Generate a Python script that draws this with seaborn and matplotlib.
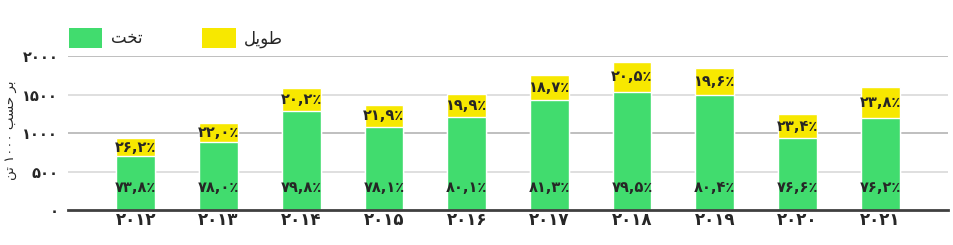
import matplotlib
matplotlib.use("Agg")
import matplotlib.pyplot as plt
import seaborn as sns
import pandas as pd
from matplotlib.patches import Patch

# ---- data ----
years = ["۲۰۱۲", "۲۰۱۳", "۲۰۱۴", "۲۰۱۵", "۲۰۱۶", "۲۰۱۷", "۲۰۱۸", "۲۰۱۹", "۲۰۲۰", "۲۰۲۱"]
flat = [695, 885, 1280, 1080, 1210, 1430, 1535, 1490, 930, 1200]
long_ = [245, 240, 305, 285, 300, 325, 385, 355, 315, 395]
flat_pct = ["۷۳,۸٪", "۷۸,۰٪", "۷۹,۸٪", "۷۸,۱٪", "۸۰,۱٪", "۸۱,۳٪", "۷۹,۵٪", "۸۰,۴٪", "۷۶,۶٪", "۷۶,۲٪"]
long_pct = ["۲۶,۲٪", "۲۲,۰٪", "۲۰,۲٪", "۲۱,۹٪", "۱۹,۹٪", "۱۸,۷٪", "۲۰,۵٪", "۱۹,۶٪", "۲۳,۴٪", "۲۳,۸٪"]
yticks = [0, 500, 1000, 1500, 2000]
ytick_labels = ["۰", "۵۰۰", "۱۰۰۰", "۱۵۰۰", "۲۰۰۰"]
# Persian labels written in visual (shaped) order for matplotlib
name_flat = "\uFE96\uFEA8\uFE97"          # تخت
name_long = "\uFEDE\uFBFE\uFEEE\uFEC3"    # طویل
ylabel = "\uFEE6\uFE97 ۱۰۰۰ \uFE90\uFEB4\uFEA3 \uFEAE\uFE91"  # بر حسب ۱۰۰۰ تن

GREEN = "#41DC6E"
YELLOW = "#F7E800"

df = pd.DataFrame({"year": years, "flat": flat, "long": long_})
df["total"] = df["flat"] + df["long"]

sns.set_theme(style="white")
plt.rcParams["font.family"] = ["DejaVu Sans"]

fig = plt.figure(figsize=(9.54, 2.45), dpi=100)
ax = fig.add_axes([68/954, 1-210/245, (948-68)/954, (210-56)/245])

sns.barplot(data=df, x="year", y="total", color=YELLOW, width=0.47, saturation=1, ax=ax, zorder=3)
sns.barplot(data=df, x="year", y="flat", color=GREEN, width=0.47, saturation=1, ax=ax, zorder=3)

# gridlines
for v in yticks[1:]:
    ax.axhline(v, color="#B4B4B4" if v % 1000 == 0 else "#D9D9D9", lw=1.2, zorder=1)

ax.set_ylim(0, 2000)
ax.set_xlim(-0.82, 9.82)
ax.set_yticks(yticks)
ax.set_yticklabels(ytick_labels, fontsize=10.5, fontweight="bold")
ax.set_xticks(range(len(years)))
ax.set_xticklabels(years, fontsize=12, fontweight="bold")
ax.tick_params(axis="both", length=0)
ax.tick_params(axis="x", pad=1)
ax.tick_params(axis="y", pad=7)
ax.set_xlabel("")
ax.set_ylabel(ylabel, fontsize=9.5)
ax.yaxis.set_label_coords(-0.058, 0.52)
for s in ["top", "right", "left"]:
    ax.spines[s].set_visible(False)
ax.spines["bottom"].set_color("#404040")
ax.spines["bottom"].set_linewidth(2)
ax.spines["bottom"].set_zorder(5)

for i in range(len(years)):
    ax.text(i, 290, flat_pct[i], ha="center", va="center", fontsize=10.5,
            fontweight="bold", zorder=6)
    ax.text(i, flat[i] + long_[i] / 2, long_pct[i], ha="center", va="center",
            fontsize=10.5, fontweight="bold", zorder=6)

handles = [Patch(facecolor=GREEN, edgecolor="none", label=name_flat),
           Patch(facecolor=YELLOW, edgecolor="none", label=name_long)]
fig.legend(handles=handles, loc="lower left", bbox_to_anchor=(69/954, 1-48/245),
           ncol=2, frameon=False, fontsize=12, handlelength=2.0, handleheight=1.5,
           columnspacing=3.6, handletextpad=0.5, borderpad=0, borderaxespad=0)

fig.savefig("out.png", dpi=100)
